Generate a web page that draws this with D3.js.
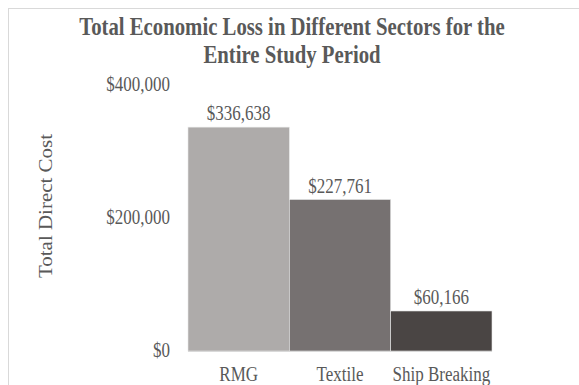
<!DOCTYPE html>
<html>
<head>
<meta charset="utf-8">
<script src="https://cdn.jsdelivr.net/npm/d3@7"></script>
<style>
  body { margin: 0; background: #fff; }
  text { font-family: "Liberation Serif", "Times New Roman", serif; fill: #595959; }
</style>
</head>
<body>
<svg id="chart"></svg>
<script>
// chart data
const sectors = ['RMG', 'Textile', 'Ship Breaking'];
const costs = [336638, 227761, 60166];
const barColors = ['#aeabaa', '#767171', '#4a4544'];
const yTicks = [0, 200000, 400000];
const titleLines = ['Total Economic Loss in Different Sectors for the', 'Entire Study Period'];

const width = 579, height = 385;
const margin = {top: 85, right: 87, bottom: 34, left: 188};
const squeeze = 0.85; // the original text is narrow and tall

const svg = d3.select('#chart')
    .attr('width', width)
    .attr('height', height);

// squash glyphs sideways, keeping their height
function narrow(sel, k) {
    sel.each(function() {
        const w = this.getComputedTextLength();
        d3.select(this)
            .attr('textLength', w * k)
            .attr('lengthAdjust', 'spacingAndGlyphs');
    });
}

// outer frame
svg.append('rect')
    .attr('x', 8.5).attr('y', 8.5)
    .attr('width', width + 10).attr('height', height + 10)
    .attr('fill', 'none')
    .attr('stroke', '#d9d9d9');

const xScale = d3.scaleBand()
    .domain(sectors)
    .range([margin.left, width - margin.right])
    .padding(0);

const yScale = d3.scaleLinear()
    .domain([0, 400000])
    .range([height - margin.bottom, margin.top]);

const fmt = d => '$' + d3.format(',')(d);

// bars
svg.append('g')
    .selectAll('rect')
    .data(sectors)
    .enter()
    .append('rect')
        .attr('x', d => xScale(d))
        .attr('y', (d, i) => yScale(costs[i]))
        .attr('width', xScale.bandwidth())
        .attr('height', (d, i) => yScale(0) - yScale(costs[i]))
        .attr('fill', (d, i) => barColors[i])
        .attr('stroke', '#e6e6e6')
        .attr('stroke-width', 0.6);

// baseline
svg.append('line')
    .attr('x1', margin.left).attr('x2', width - margin.right)
    .attr('y1', yScale(0) + 0.5).attr('y2', yScale(0) + 0.5)
    .attr('stroke', '#d9d9d9');

// value labels
svg.append('g')
    .selectAll('text')
    .data(sectors)
    .enter()
    .append('text')
        .attr('x', d => xScale(d) + xScale.bandwidth() / 2)
        .attr('y', (d, i) => yScale(costs[i]) - 7)
        .attr('text-anchor', 'middle')
        .style('font-size', '20px')
        .text((d, i) => fmt(costs[i]))
        .call(narrow, squeeze);

// y axis (labels only)
const yAxis = d3.axisLeft(yScale)
    .tickValues(yTicks)
    .tickFormat(fmt)
    .tickSize(0)
    .tickPadding(18);
const yAxisGroup = svg.append('g')
    .attr('transform', `translate(${margin.left}, 0)`)
    .call(yAxis);
yAxisGroup.select('.domain').remove();
yAxisGroup.selectAll('text')
    .attr('dy', '0.27em')
    .style('font-size', '20px')
    .style('fill', '#595959')
    .call(narrow, squeeze);

// x axis (labels only)
const xAxis = d3.axisBottom(xScale).tickSize(0).tickPadding(16);
const xAxisGroup = svg.append('g')
    .attr('transform', `translate(0, ${yScale(0)})`)
    .call(xAxis);
xAxisGroup.select('.domain').remove();
xAxisGroup.selectAll('text')
    .style('font-size', '20px')
    .style('fill', '#595959')
    .call(narrow, squeeze);

// y axis title
svg.append('text')
    .attr('transform', `translate(52, 206) scale(${squeeze}, 1) rotate(-90)`)
    .attr('text-anchor', 'middle')
    .style('font-size', '21px')
    .text('Total Direct Cost');

// title
svg.append('g')
    .selectAll('text')
    .data(titleLines)
    .enter()
    .append('text')
        .attr('x', 292)
        .attr('y', (d, i) => 35 + i * 28)
        .attr('text-anchor', 'middle')
        .style('font-size', '25px')
        .style('font-weight', 'bold')
        .text(d => d)
        .call(narrow, 0.83);
</script>
</body>
</html>
